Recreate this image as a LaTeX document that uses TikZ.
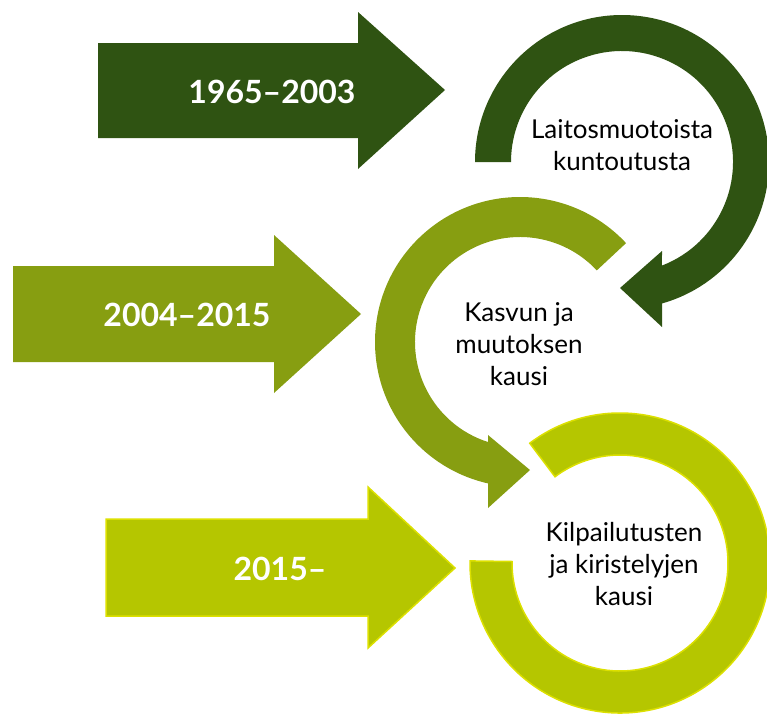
\documentclass[tikz,border=0pt]{standalone}
\usepackage{fontspec}
\setmainfont{Lato}
\usetikzlibrary{calc}
\definecolor{eraA}{HTML}{2F5312}
\definecolor{eraB}{HTML}{879E11}
\definecolor{eraC}{HTML}{B5C600}
\definecolor{eraCline}{HTML}{DCE000}
\begin{document}
\begin{tikzpicture}[x=1pt,y=-1pt,
  yearlabel/.style={text=white,font=\bfseries\fontsize{32}{38}\selectfont,inner sep=0pt},
  phaselabel/.style={text=black,font=\fontsize{26}{32}\selectfont,align=center,inner sep=0pt},
  edgeC/.style={draw=eraCline,line width=1.5pt,line join=miter}]
\useasboundingbox (0,0) rectangle (767,713);

% ring centres
\coordinate (c1) at (622,162);
\coordinate (c2) at (520,342);
\coordinate (c3) at (620,563);

% straight block arrows
\fill[eraA] (98,43) -- (358,43) -- (358,12) -- (445,90) -- (358,169) -- (358,138) -- (98,138) -- cycle;
\fill[eraB] (13,266) -- (274,266) -- (274,235) -- (361,314) -- (274,393) -- (274,362) -- (13,362) -- cycle;
\filldraw[fill=eraC,edgeC] (106,519) -- (368,519) -- (368,487) -- (455,568) -- (368,648) -- (368,616) -- (106,616) -- cycle;

% first circular arrow, clockwise
\fill[eraA] ($(c1)+(-180:147)$) arc[start angle=-180,end angle=74.2,radius=147]
  -- (662,327) -- (620,288) -- (662,251)
  -- ($(c1)+(68.9:111)$) arc[start angle=68.9,end angle=-180,radius=111] -- cycle;

% second circular arrow, counter-clockwise
\fill[eraB] ($(c2)+(-43:145)$) arc[start angle=-43,end angle=-257.3,radius=145]
  -- (488,508) -- (530,470) -- (488,435)
  -- ($(c2)+(-252.3:105)$) arc[start angle=-252.3,end angle=-43,radius=105] -- cycle;

% open ring
\filldraw[fill=eraC,edgeC] ($(c3)+(-127:150)$) arc[start angle=-127,end angle=180.8,radius=150]
  -- ($(c3)+(180.8:108)$) arc[start angle=180.8,end angle=-127,radius=108] -- cycle;

% labels
\node[yearlabel] (y1) at (272,92) {1965–2003};
\node[yearlabel] (y2) at (187,315) {2004–2015};
\node[yearlabel] (y3) at (280,569) {2015–};
\node[phaselabel] (p1) at (622,145) {Laitosmuotoista\\kuntoutusta};
\node[phaselabel] (p2) at (519,344) {Kasvun ja\\muutoksen\\kausi};
\node[phaselabel] (p3) at (624,564) {Kilpailutusten\\ja kiristelyjen\\kausi};
\end{tikzpicture}
\end{document}
